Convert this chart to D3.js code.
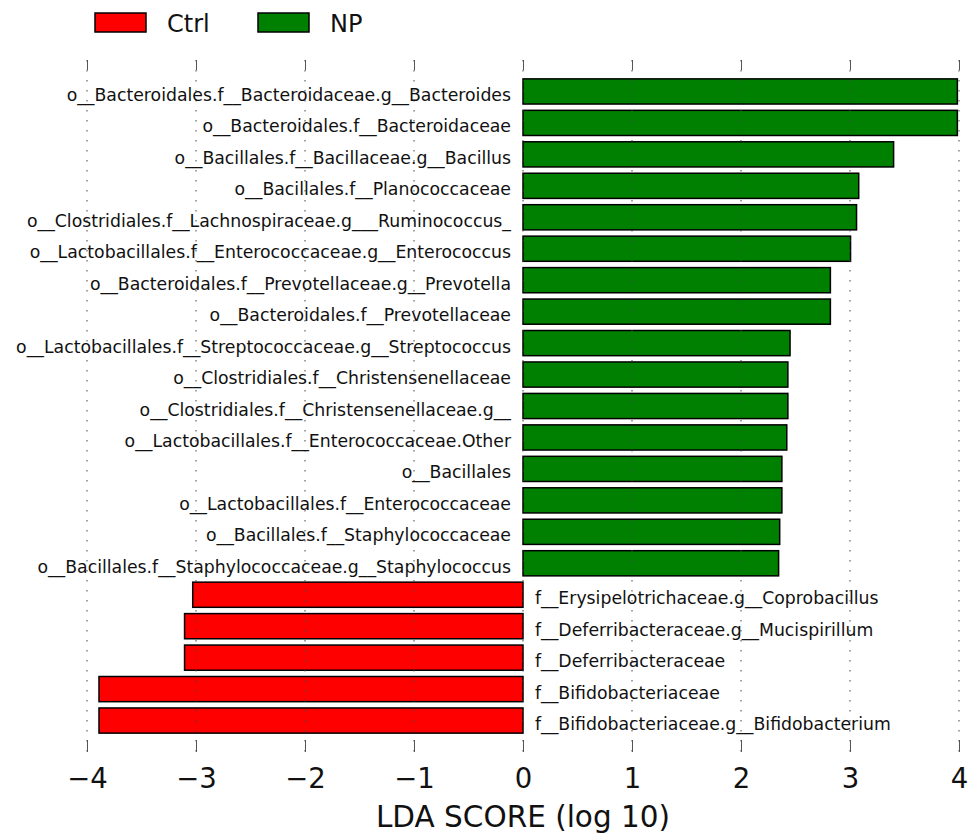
<!DOCTYPE html>
<html>
<head>
<meta charset="utf-8">
<script src="https://cdn.jsdelivr.net/npm/d3@7"></script>
<style>
  body { margin: 0; background: #fff; }
  svg { font-family: "DejaVu Sans", sans-serif; }
</style>
</head>
<body>
<svg width="973" height="833"></svg>
<script>
var taxa = [
  "o__Bacteroidales.f__Bacteroidaceae.g__Bacteroides",
  "o__Bacteroidales.f__Bacteroidaceae",
  "o__Bacillales.f__Bacillaceae.g__Bacillus",
  "o__Bacillales.f__Planococcaceae",
  "o__Clostridiales.f__Lachnospiraceae.g___Ruminococcus_",
  "o__Lactobacillales.f__Enterococcaceae.g__Enterococcus",
  "o__Bacteroidales.f__Prevotellaceae.g__Prevotella",
  "o__Bacteroidales.f__Prevotellaceae",
  "o__Lactobacillales.f__Streptococcaceae.g__Streptococcus",
  "o__Clostridiales.f__Christensenellaceae",
  "o__Clostridiales.f__Christensenellaceae.g__",
  "o__Lactobacillales.f__Enterococcaceae.Other",
  "o__Bacillales",
  "o__Lactobacillales.f__Enterococcaceae",
  "o__Bacillales.f__Staphylococcaceae",
  "o__Bacillales.f__Staphylococcaceae.g__Staphylococcus",
  "f__Erysipelotrichaceae.g__Coprobacillus",
  "f__Deferribacteraceae.g__Mucispirillum",
  "f__Deferribacteraceae",
  "f__Bifidobacteriaceae",
  "f__Bifidobacteriaceae.g__Bifidobacterium"
];

var lda = [3.985, 3.985, 3.40, 3.08, 3.06, 3.005, 2.82, 2.82, 2.45, 2.43, 2.43,
           2.42, 2.375, 2.375, 2.355, 2.345,
           -3.03, -3.105, -3.105, -3.89, -3.89];

var classes = ["Ctrl", "NP"];
var classColors = ["#ff0000", "#008000"];
var xTicks = [-4, -3, -2, -1, 0, 1, 2, 3, 4];

var svg = d3.select("svg");

var x = d3.scaleLinear().domain([-4, 4]).range([87, 959]);
var y = d3.scaleLinear().domain([-1, taxa.length]).range([60, 752]);
var barH = (y(1) - y(0)) * 0.8;

var color = d3.scaleOrdinal().domain(classes).range(classColors);

var bars = svg.append("g").attr("class", "bars")
  .selectAll("rect")
  .data(taxa)
  .enter().append("rect")
  .attr("x", function(d, i) { return x(Math.min(0, lda[i])); })
  .attr("y", function(d, i) { return y(i) - barH / 2; })
  .attr("width", function(d, i) { return Math.abs(x(lda[i]) - x(0)); })
  .attr("height", barH)
  .attr("fill", function(d, i) { return color(lda[i] > 0 ? "NP" : "Ctrl"); })
  .attr("stroke", "#000")
  .attr("stroke-width", 1.5);

// dotted grid, drawn over the bars like the original
svg.append("g").attr("class", "grid")
  .selectAll("line")
  .data(xTicks)
  .enter().append("line")
  .attr("x1", function(d) { return x(d); })
  .attr("x2", function(d) { return x(d); })
  .attr("y1", y.range()[0])
  .attr("y2", y.range()[1])
  .attr("stroke", "#444")
  .attr("stroke-width", 1)
  .attr("stroke-dasharray", "1.5,8.5");

var labels = svg.append("g").attr("class", "labels")
  .selectAll("text")
  .data(taxa)
  .enter().append("text")
  .attr("x", function(d, i) { return lda[i] > 0 ? x(0) - 12 : x(0) + 12; })
  .attr("y", function(d, i) { return y(i); })
  .attr("dy", "0.55em")
  .attr("text-anchor", function(d, i) { return lda[i] > 0 ? "end" : "start"; })
  .attr("font-size", 17.3)
  .attr("fill", "#111")
  .text(function(d) { return d; });

// axis: inward ticks top and bottom, no spines
var fmt = function(d) { return d < 0 ? "\u2212" + Math.abs(d) : d; };
var axisB = svg.append("g")
  .attr("transform", "translate(0," + y.range()[1] + ")")
  .call(d3.axisBottom(x).tickValues(xTicks).tickFormat(fmt).tickSize(-12).tickPadding(16));
var axisT = svg.append("g")
  .attr("transform", "translate(0," + y.range()[0] + ")")
  .call(d3.axisTop(x).tickValues(xTicks).tickFormat("").tickSize(-10));
[axisB, axisT].forEach(function(a) {
  a.select(".domain").remove();
  a.selectAll(".tick line").attr("stroke", "#555");
});
axisB.selectAll(".tick text")
  .attr("font-size", 27.5)
  .attr("font-family", "DejaVu Sans")
  .attr("fill", "#111");

svg.append("text")
  .attr("x", x(0))
  .attr("y", 827)
  .attr("text-anchor", "middle")
  .attr("font-size", 29.5)
  .attr("fill", "#111")
  .text("LDA SCORE (log 10)");

// legend
var legend = svg.append("g").attr("class", "legend")
  .selectAll("g")
  .data(classes)
  .enter().append("g")
  .attr("transform", function(d, i) { return "translate(" + [95, 258][i] + ",13)"; });

legend.append("rect")
  .attr("width", 51)
  .attr("height", 19)
  .attr("fill", function(d) { return color(d); })
  .attr("stroke", "#000")
  .attr("stroke-width", 1.5);

legend.append("text")
  .attr("x", 72)
  .attr("y", 19)
  .attr("font-size", 24)
  .attr("fill", "#111")
  .text(function(d) { return d; });
</script>
</body>
</html>
